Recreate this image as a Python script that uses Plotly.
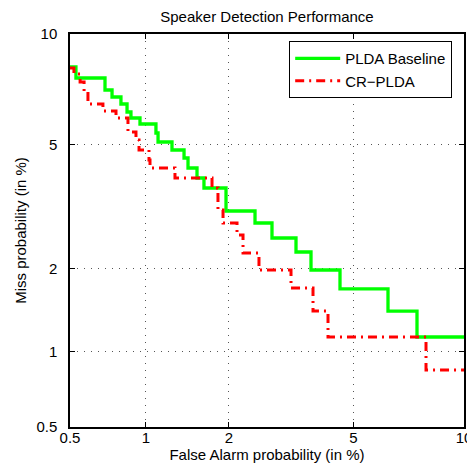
from statistics import NormalDist
import plotly.graph_objects as go

# DET curve data (percent). Step curves: horizontal at miss level i between fa[i] and fa[i+1]
base_fa = [0.5, 0.529, 0.693, 0.739, 0.801, 0.846, 0.876, 0.949, 1.091, 1.111, 1.252, 1.386,
           1.433, 1.544, 1.635, 1.954, 2.453, 2.792, 3.337, 3.72, 4.562, 6.286, 7.551, 10.0]
base_miss = [8.223, 7.687, 7.133, 6.824, 6.526, 6.197, 5.959, 5.729, 5.396, 5.079, 4.81, 4.552,
             4.246, 3.956, 3.683, 3.113, 2.846, 2.539, 2.278, 1.976, 1.695, 1.412, 1.132]
cr_fa = [0.5, 0.519, 0.55, 0.571, 0.592, 0.68, 0.766, 0.853, 0.916, 0.941, 1.027, 1.036,
         1.284, 1.746, 1.832, 1.908, 2.132, 2.235, 2.529, 3.217, 3.774, 4.197, 7.981, 10.0]
cr_miss = [8.173, 7.879, 7.499, 7.043, 6.526, 6.237, 5.959, 5.432, 5.148, 4.81, 4.489, 4.246,
           3.956, 3.683, 3.136, 2.846, 2.598, 2.26, 1.976, 1.709, 1.412, 1.132, 0.847]

tick_pct = [0.5, 1, 2, 5, 10]
tick_labels = ["0.5", "1", "2", "5", "10"]

N = NormalDist()
def probit(p):
    return N.inv_cdf(p / 100.0)

def step_xy(fa, miss):
    xs = [probit(v) for v in fa[:len(miss)]] + [probit(fa[len(miss)])]
    ys = [probit(v) for v in miss] + [probit(miss[-1])]
    return xs, ys

FONT = "Liberation Sans, Arial, Helvetica"

fig = go.Figure()
gx, gy = step_xy(base_fa, base_miss)
fig.add_trace(go.Scatter(x=gx, y=gy, mode="lines", line_shape="hv",
                         line=dict(color="#00ff00", width=3.3), name="PLDA Baseline"))
rx, ry = step_xy(cr_fa, cr_miss)
fig.add_trace(go.Scatter(x=rx, y=ry, mode="lines", line_shape="hv",
                         line=dict(color="#ff0000", width=3, dash="9px,5px,2px,5px"),
                         name="CR\u2212PLDA"))

tv = [probit(v) for v in tick_pct]
axis_common = dict(
    tickmode="array", tickvals=tv, ticktext=tick_labels,
    showgrid=True, gridcolor="#555555", griddash="1px,6px", gridwidth=1,
    zeroline=False, showline=True, linecolor="black", linewidth=1.5, mirror="ticks",
    ticks="inside", ticklen=5, tickcolor="black",
    tickfont=dict(family=FONT, size=15, color="black"),
    range=[probit(0.5), probit(10)], automargin=False,
)
fig.update_xaxes(**axis_common, ticklabelstandoff=-4,
                 title=dict(text="False Alarm probability (in %)", standoff=5,
                            font=dict(family=FONT, size=15, color="black")))
fig.update_yaxes(**axis_common, ticklabelstandoff=8,
                 title=dict(text="Miss probability (in %)", standoff=6,
                            font=dict(family=FONT, size=15, color="black")))

# page body has an 8px margin, so the figure is sized/offset accordingly
fig.update_layout(
    width=467, height=460,
    margin=dict(l=62, r=11, t=26, b=41, autoexpand=False),
    paper_bgcolor="white", plot_bgcolor="white",
    title=dict(text="Speaker Detection Performance", x=0.5, xanchor="center",
               xref="paper", yref="container",
               y=1 - 9 / 460, yanchor="middle",
               font=dict(family=FONT, size=15, color="black")),
    legend=dict(x=0.97, y=0.982, xanchor="right", yanchor="top",
                bgcolor="white", bordercolor="black", borderwidth=1,
                font=dict(family=FONT, size=15, color="black"),
                itemwidth=45, tracegroupgap=0),
    showlegend=True,
)

fig.write_html("out.html")
